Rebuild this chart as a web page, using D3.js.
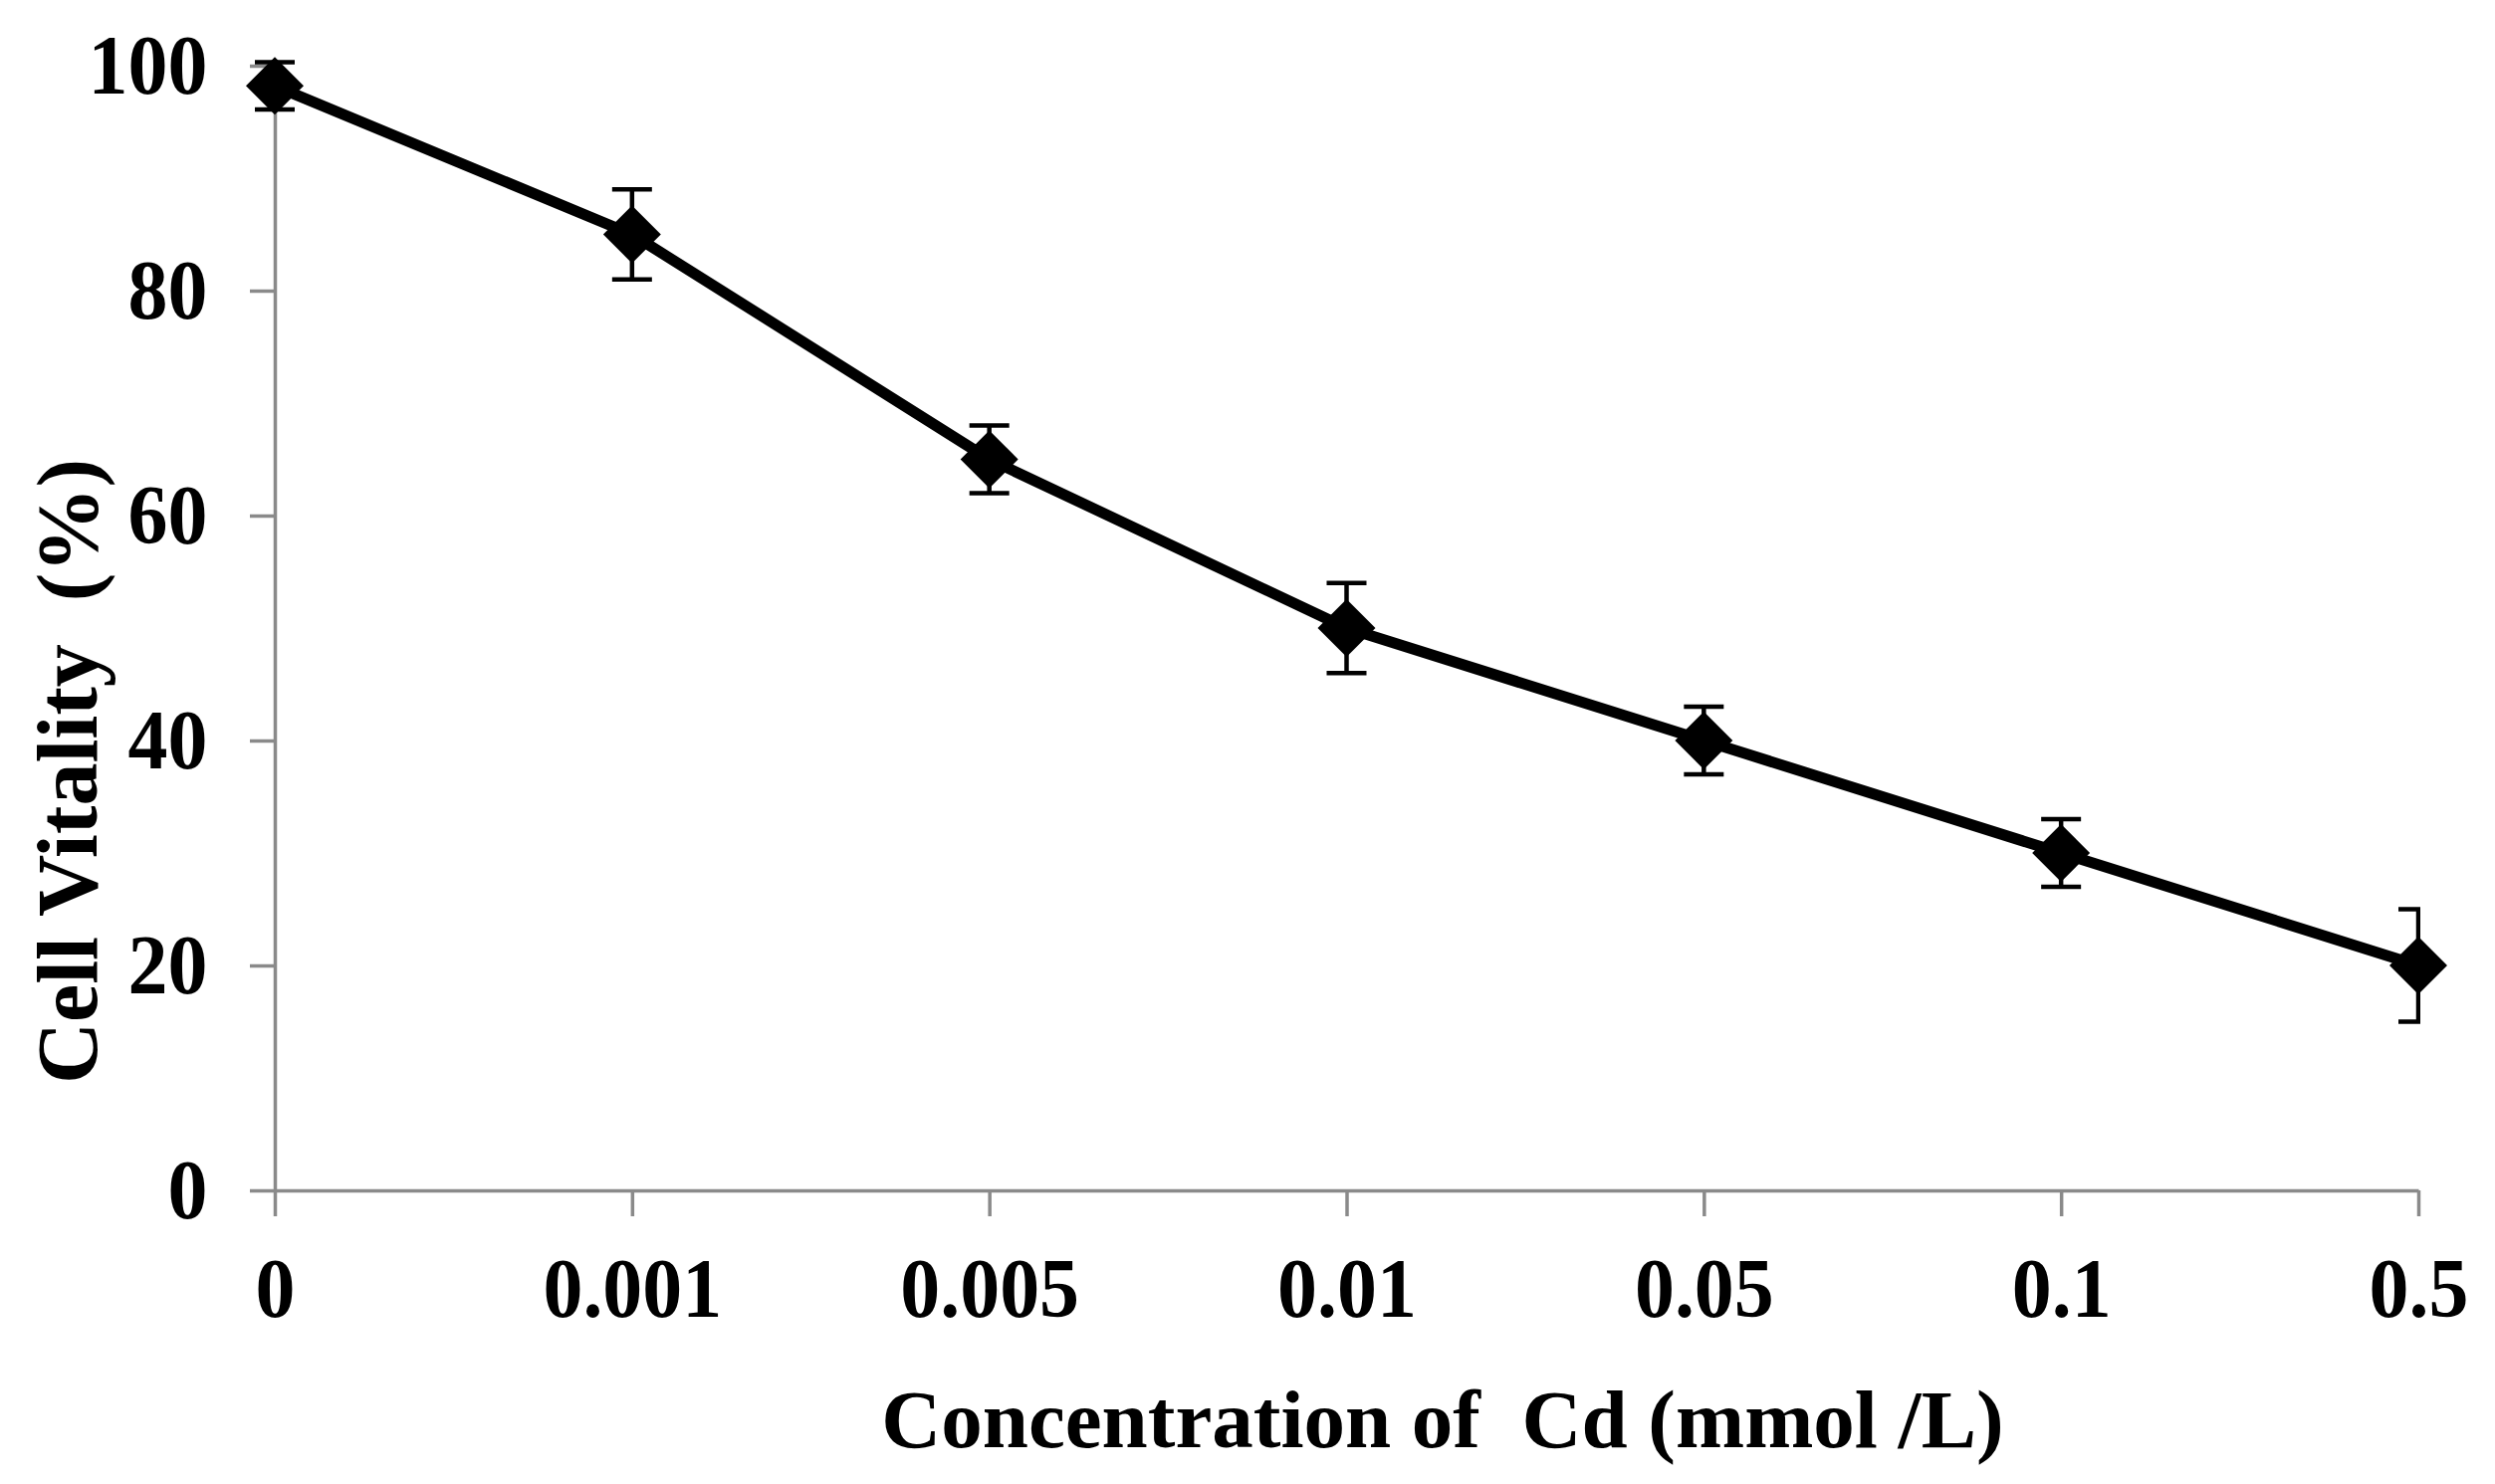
<!DOCTYPE html>
<html>
<head>
<meta charset="utf-8">
<script src="https://cdn.jsdelivr.net/npm/d3@7"></script>
<style>
  html, body { margin: 0; padding: 0; background: #fff; }
  svg { display: block; }
  text { font-family: "Liberation Serif", "Times New Roman", serif; font-weight: bold; fill: #000; }
</style>
</head>
<body>
<svg id="chart" width="2506" height="1491"></svg>
<script>
const categories = ["0", "0.001", "0.005", "0.01", "0.05", "0.1", "0.5"];
const values = [98.2, 85, 65, 50, 40, 30, 20];
const errors = [2.1, 4, 3, 4, 3, 3, 5];
const yTicks = [0, 20, 40, 60, 80, 100];
const xTitle = "Concentration of  Cd (mmol /L)";
const yTitle = "Cell Vitality  (%)";

(function () {
const W = 2506, H = 1491;
const svg = d3.select("#chart");
const mLeft = 276, mRight = 2429, mBottom = 1196, mTop = 66;

const x = d3.scalePoint().domain(categories).range([mLeft, mRight]);
const y = d3.scaleLinear().domain([0, 100]).range([mBottom, mTop]);

const axisColor = "#8a8a8a";
const tickFont = 85, sx = 0.94;

const yAxis = svg.append("g")
  .attr("transform", `translate(${mLeft},0)`)
  .call(d3.axisLeft(y).tickValues(yTicks).tickSize(25).tickSizeOuter(0).tickPadding(47));
const xAxis = svg.append("g")
  .attr("transform", `translate(0,${mBottom})`)
  .call(d3.axisBottom(x).tickSize(26).tickSizeOuter(0).tickPadding(41));

[yAxis, xAxis].forEach(g => {
  g.select(".domain").attr("stroke", axisColor).attr("stroke-width", 3.5);
  g.selectAll(".tick line").attr("stroke", axisColor).attr("stroke-width", 3.5);
  g.selectAll(".tick text")
    .attr("fill", "#000")
    .attr("transform", `scale(${sx},1)`)
    .style("font-family", '"Liberation Serif", "Times New Roman", serif')
    .style("font-weight", "bold")
    .style("font-size", tickFont + "px");
});

const data = categories.map((c, i) => ({ c, v: values[i], e: errors[i] }));

svg.append("clipPath").attr("id", "plotclip")
  .append("rect").attr("x", 0).attr("y", 0).attr("width", mRight + 2).attr("height", H);

svg.append("path")
  .datum(data)
  .attr("fill", "none")
  .attr("stroke", "#000")
  .attr("stroke-width", 11)
  .attr("stroke-linejoin", "round")
  .attr("d", d3.line().x(d => x(d.c)).y(d => y(d.v)));

const eb = svg.append("g").attr("clip-path", "url(#plotclip)")
  .attr("stroke", "#000").attr("stroke-width", 4.5).attr("fill", "none");
const cap = 20;
data.forEach(d => {
  const cx = x(d.c);
  eb.append("line").attr("x1", cx).attr("x2", cx).attr("y1", y(d.v + d.e)).attr("y2", y(d.v - d.e));
  eb.append("line").attr("x1", cx - cap).attr("x2", cx + cap).attr("y1", y(d.v + d.e)).attr("y2", y(d.v + d.e));
  eb.append("line").attr("x1", cx - cap).attr("x2", cx + cap).attr("y1", y(d.v - d.e)).attr("y2", y(d.v - d.e));
});

const sym = d3.symbol().type(d3.symbolSquare).size(1680);
svg.append("g").selectAll("path")
  .data(data).join("path")
  .attr("d", sym)
  .attr("fill", "#000")
  .attr("transform", d => `translate(${x(d.c)},${y(d.v)}) rotate(45)`);

svg.append("text")
  .attr("x", 1449).attr("y", 1454)
  .attr("text-anchor", "middle")
  .style("font-size", "83px")
  .style("white-space", "pre")
  .text(xTitle);

svg.append("text")
  .attr("transform", "translate(97,775) rotate(-90)")
  .attr("text-anchor", "middle")
  .style("font-size", "86px")
  .style("white-space", "pre")
  .text(yTitle);
})();
</script>
</body>
</html>
